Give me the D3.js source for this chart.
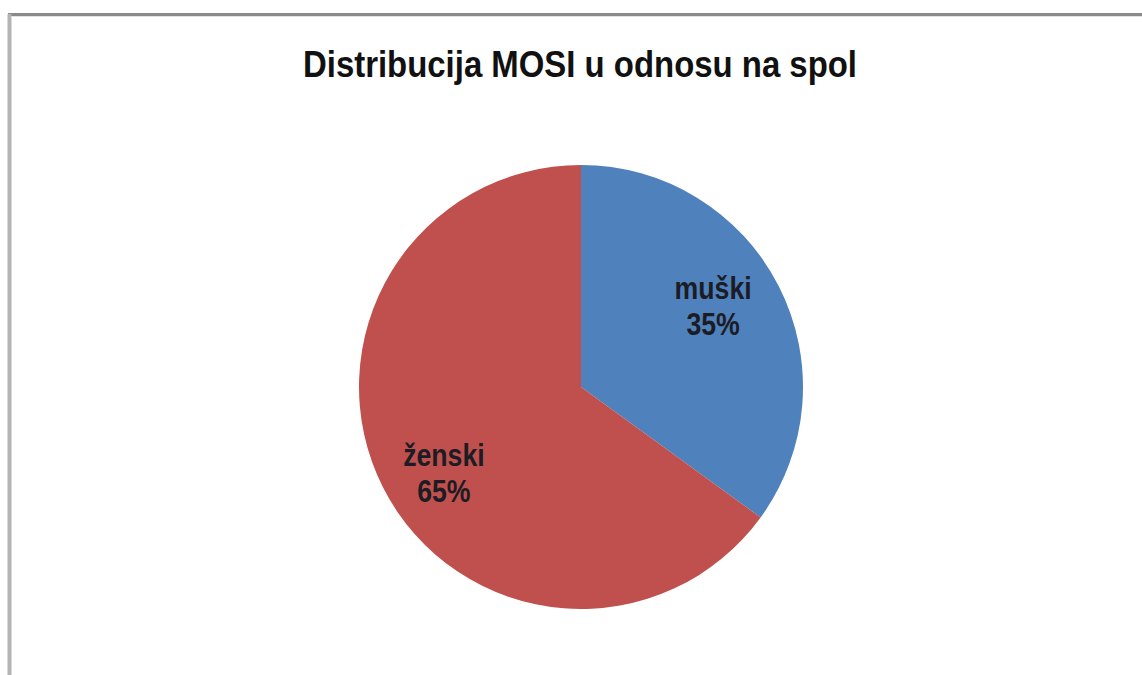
<!DOCTYPE html>
<html>
<head>
<meta charset="utf-8">
<script src="https://cdn.jsdelivr.net/npm/d3@7"></script>
<style>
	body { margin: 0; background: #fff; }
	text { font-family: "Liberation Sans", Arial, sans-serif; font-weight: bold; }
</style>
</head>
<body>
<script>
// data
var categories = ["muški", "ženski"];
var values = [35, 65];
var colors = ["#4f81bd", "#c0504d"];
var title = "Distribucija MOSI u odnosu na spol";

var width = 1142;
var height = 675;
var cx = 581, cy = 387, radius = 222;

var svg = d3.select("body")
			.append("svg")
			.attr("width", width)
			.attr("height", height);

// chart frame (only top and left edges visible)
svg.append("line")
	.attr("x1", 8).attr("y1", 14.5).attr("x2", width).attr("y2", 14.5)
	.attr("stroke", "#8a8a8a").attr("stroke-width", 3);
svg.append("line")
	.attr("x1", 9.5).attr("y1", 14).attr("x2", 9.5).attr("y2", height)
	.attr("stroke", "#b4b4b4").attr("stroke-width", 4);
svg.append("line")
	.attr("x1", 11).attr("y1", 16.5).attr("x2", width).attr("y2", 16.5)
	.attr("stroke", "#e2e2e2").attr("stroke-width", 1);

svg.append("text")
	.attr("x", 580)
	.attr("y", 77)
	.attr("text-anchor", "middle")
	.attr("font-size", 37)
	.attr("fill", "#111")
	.attr("textLength", 554)
	.attr("lengthAdjust", "spacingAndGlyphs")
	.text(title);

var pie = d3.pie().sort(null).value(function(d){ return d; });
var arcs = pie(values);

var arc = d3.arc().innerRadius(0).outerRadius(radius);
var labelArc = d3.arc().innerRadius(155).outerRadius(155);

var g = svg.append("g").attr("transform", "translate(" + cx + "," + cy + ")");

g.selectAll("path")
	.data(arcs)
	.enter()
		.append("path")
		.attr("d", arc)
		.attr("fill", function(d, i){ return colors[i]; });

// excel "best fit" puts labels a bit off the centroid
var nudge = [[-6, -9], [1, 18]];

var labels = g.selectAll("g.label")
			  .data(arcs)
			  .enter()
			  	.append("g")
			  	.attr("class", "label")
			  	.attr("transform", function(d, i){
			  		var c = labelArc.centroid(d);
			  		return "translate(" + (c[0] + nudge[i][0]) + "," + (c[1] + nudge[i][1]) + ")";
			  	});

labels.each(function(d, i){
	var lines = [categories[i], Math.round(d.value / d3.sum(values) * 100) + "%"];
	var sel = d3.select(this);
	lines.forEach(function(t, j){
		var txt = sel.append("text")
			.attr("y", j === 0 ? -9 : 27)
			.attr("text-anchor", "middle")
			.attr("font-size", 31)
			.attr("fill", "#1c1c24")
			.text(t);
		var w = txt.node().getComputedTextLength();
		txt.attr("textLength", w * 0.86).attr("lengthAdjust", "spacingAndGlyphs");
	});
});
</script>
</body>
</html>
